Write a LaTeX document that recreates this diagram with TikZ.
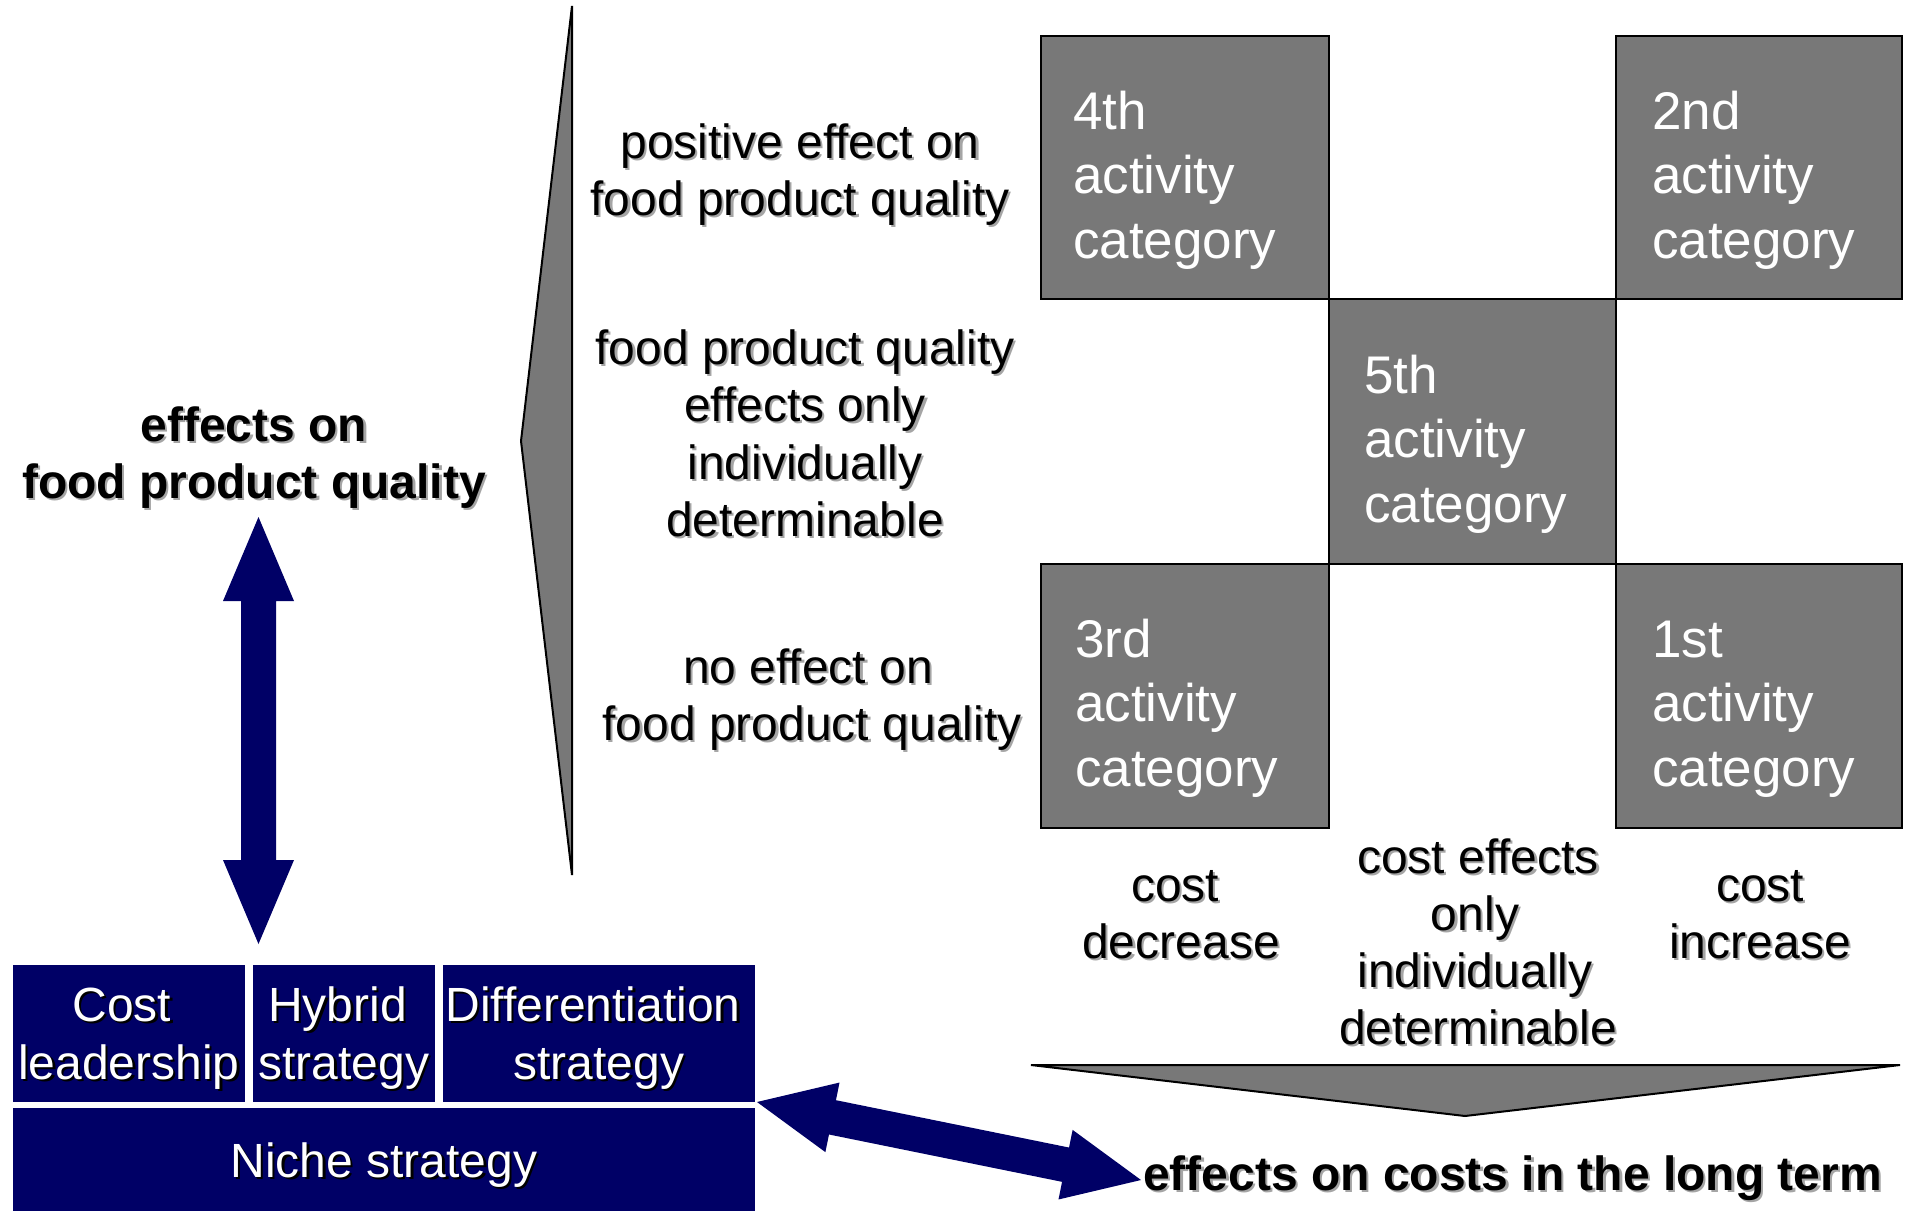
\documentclass[tikz,border=0pt]{standalone}
\usepackage{fontspec}
\setmainfont{Liberation Sans}
\usetikzlibrary{calc}

\definecolor{navy}{RGB}{0,0,102}
\definecolor{boxgrey}{RGB}{120,120,120}
\definecolor{shadegrey}{RGB}{165,165,165}

% text with a soft drop shadow (grey for black text, black for white text)
\newcommand\shk[1]{\makebox[0pt][l]{\hspace{2.2pt}\raisebox{-2.2pt}{\textcolor{shadegrey}{#1}}}#1}
\newcommand\shw[1]{\makebox[0pt][l]{\hspace{2.2pt}\raisebox{-2.2pt}{\textcolor{black}{#1}}}#1}

% filled double-headed block arrow between two named points
% #1,#2 tips, #3 head length, #4 prefix for helper coordinates
\newcommand\blockarrow[4]{%
  \coordinate (#4ha) at ($(#1)!#3!(#2)$);
  \coordinate (#4hb) at ($(#2)!#3!(#1)$);
  \fill[navy] (#1)
    -- ($(#4ha)!35.5pt!90:(#2)$) -- ($(#4ha)!17.5pt!90:(#2)$)
    -- ($(#4hb)!17.5pt!-90:(#1)$) -- ($(#4hb)!35.5pt!-90:(#1)$)
    -- (#2)
    -- ($(#4hb)!35.5pt!90:(#1)$) -- ($(#4hb)!17.5pt!90:(#1)$)
    -- ($(#4ha)!17.5pt!-90:(#2)$) -- ($(#4ha)!35.5pt!-90:(#2)$)
    -- cycle;}

\begin{document}
\begin{tikzpicture}[x=1pt,y=-1pt,
  catbox/.style={draw=black, line width=2pt, fill=boxgrey, rectangle,
    inner sep=0pt, anchor=north west},
  cattext/.style={text=white, inner sep=0pt, anchor=base west,
    font=\fontsize{53}{64.5}\selectfont},
  stratbox/.style={fill=navy, rectangle, inner sep=0pt, anchor=north west},
  strattext/.style={text=white, inner sep=0pt, anchor=base,
    font=\fontsize{48}{58}\selectfont},
  label/.style={text=black, inner sep=0pt, anchor=base},
  wedge/.style={draw=black, line width=2pt, fill=boxgrey, line join=miter}]

\useasboundingbox (0,0) rectangle (1910,1215);

% ---- wedge on the quality axis and wedge on the cost axis
\filldraw[wedge] (572,6) -- (521,441) -- (572,875) -- cycle;
\filldraw[wedge] (1031,1065) -- (1900,1065) -- (1465,1116) -- cycle;

% ---- activity category grid
\node[catbox, minimum width=288pt, minimum height=263pt] (c4) at (1040,35) {};
\node[catbox, minimum width=286pt, minimum height=263pt] (c2) at (1615,35) {};
\node[catbox, minimum width=287pt, minimum height=265pt] (c5) at (1328,298) {};
\node[catbox, minimum width=288pt, minimum height=264pt] (c3) at (1040,563) {};
\node[catbox, minimum width=286pt, minimum height=264pt] (c1) at (1615,563) {};

\node[cattext] (t4) at ($(c4.north west)+(33,94)$)
  {\begin{tabular}[t]{@{}l@{}}4th\\activity\\category\end{tabular}};
\node[cattext] (t2) at ($(c2.north west)+(37,94)$)
  {\begin{tabular}[t]{@{}l@{}}2nd\\activity\\category\end{tabular}};
\node[cattext] (t5) at ($(c5.north west)+(36,95)$)
  {\begin{tabular}[t]{@{}l@{}}5th\\activity\\category\end{tabular}};
\node[cattext] (t3) at ($(c3.north west)+(35,94)$)
  {\begin{tabular}[t]{@{}l@{}}3rd\\activity\\category\end{tabular}};
\node[cattext] (t1) at ($(c1.north west)+(37,94)$)
  {\begin{tabular}[t]{@{}l@{}}1st\\activity\\category\end{tabular}};

% ---- quality levels
\node[label, font=\fontsize{48}{57}\selectfont] (q1) at (800,158)
  {\begin{tabular}[t]{@{}c@{}}\shk{positive effect on}\\\shk{food product quality}\end{tabular}};
\node[label, font=\fontsize{48}{57.5}\selectfont] (q2) at (805,364)
  {\begin{tabular}[t]{@{}c@{}}\shk{food product quality}\\\shk{effects only}\\\shk{individually}\\\shk{determinable}\end{tabular}};
\node[label, font=\fontsize{48}{57.5}\selectfont] (q3) at (812,683)
  {\begin{tabular}[t]{@{}c@{}}\shk{no effect on\kern8pt}\\\shk{food product quality}\end{tabular}};

% ---- cost levels
\node[label, font=\fontsize{48}{57}\selectfont] (k1) at (1181,901)
  {\begin{tabular}[t]{@{}c@{}}\shk{cost\kern12pt}\\\shk{decrease}\end{tabular}};
\node[label, font=\fontsize{48}{57}\selectfont] (k2) at (1475,873)
  {\begin{tabular}[t]{@{}c@{}}\shk{\kern6pt cost effects}\\\shk{only}\\\shk{individually}\\\shk{\kern6pt determinable}\end{tabular}};
\node[label, font=\fontsize{48}{57}\selectfont] (k3) at (1760,901)
  {\begin{tabular}[t]{@{}c@{}}\shk{cost}\\\shk{increase}\end{tabular}};

% ---- axis titles
\node[label, font=\fontsize{48}{57}\selectfont\bfseries] (qtitle) at (254,441)
  {\begin{tabular}[t]{@{}c@{}}\shk{effects on}\\\shk{food product quality}\end{tabular}};
\node[label, anchor=base west, font=\fontsize{48}{54}\selectfont\bfseries] (ktitle) at (1143,1190)
  {\shk{effects on costs in the long term}};

% ---- generic strategies
\node[stratbox, minimum width=232pt, minimum height=137pt] (cost) at (13,965) {};
\node[stratbox, minimum width=182pt, minimum height=137pt] (hybrid) at (253,965) {};
\node[stratbox, minimum width=312pt, minimum height=137pt] (diff) at (443,965) {};
\node[stratbox, minimum width=742pt, minimum height=103pt] (niche) at (13,1108) {};

\node[strattext] (costt) at (129,1021)
  {\begin{tabular}[t]{@{}c@{}}\shw{Cost\kern14pt}\\\shw{leadership}\end{tabular}};
\node[strattext] (hybridt) at (344,1021)
  {\begin{tabular}[t]{@{}c@{}}\shw{Hybrid\kern13pt}\\\shw{strategy}\end{tabular}};
\node[strattext] (difft) at (599,1021)
  {\begin{tabular}[t]{@{}c@{}}\shw{Differentiation\kern12pt}\\\shw{strategy}\end{tabular}};
\node[strattext] (nichet) at (384,1177) {\shw{Niche strategy}};

% ---- double arrows linking the strategies to both axes
\coordinate (vtop) at (258.5,517);
\coordinate (vbot) at (258.5,944);
\blockarrow{vtop}{vbot}{84pt}{v}

\coordinate (dleft) at (757,1102);
\coordinate (dright) at (1141,1180);
\blockarrow{dleft}{dright}{77pt}{d}

\end{tikzpicture}
\end{document}
